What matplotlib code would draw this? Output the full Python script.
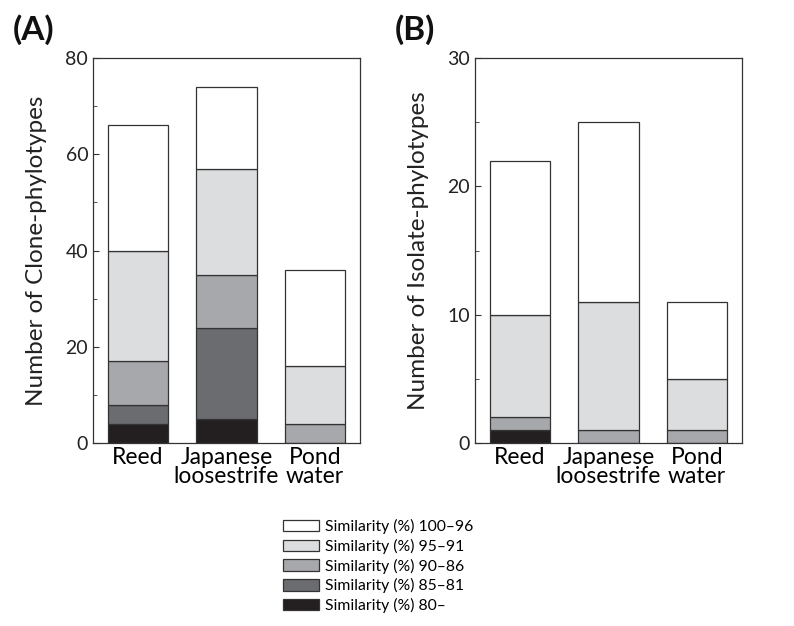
import matplotlib.pyplot as plt
import numpy as np
from matplotlib.patches import Patch

plt.rcParams['font.family'] = ['Lato', 'DejaVu Sans']

categories = ['Reed', 'Japanese\nloosestrife', 'Pond\nwater']
similarity = ['Similarity (%) 80\u2013', 'Similarity (%) 85\u201381',
              'Similarity (%) 90\u201386', 'Similarity (%) 95\u201391',
              'Similarity (%) 100\u201396']
colors = ['#231f20', '#6b6c70', '#a7a8ab', '#dcdddf', '#ffffff']

# clone-phylotypes, bottom (80-) to top (100-96)
clone = [[4, 5, 0],
         [4, 19, 0],
         [9, 11, 4],
         [23, 22, 12],
         [26, 17, 20]]
# isolate-phylotypes
isolate = [[1, 0, 0],
           [0, 0, 0],
           [1, 1, 1],
           [8, 10, 4],
           [12, 14, 6]]

fig = plt.figure(figsize=(7.94, 6.26), dpi=100)
W, H = 794, 626
ax_a = fig.add_axes([93 / W, 1 - 443 / H, 267 / W, 385 / H])
ax_b = fig.add_axes([475 / W, 1 - 443 / H, 267 / W, 385 / H])


def draw_panel(ax, data, ymax, major, minor, ylabel, tag):
    x = np.arange(len(categories))
    bottom = np.zeros(len(categories))
    for vals, c in zip(data, colors):
        vals = np.array(vals, dtype=float)
        ax.bar(x, vals, width=0.68, bottom=bottom, color=c,
               edgecolor='#333333', linewidth=0.9)
        bottom += vals
    ax.set_xlim(-0.51, 2.51)
    ax.set_ylim(0, ymax)
    ax.set_yticks(np.arange(0, ymax + 1, major))
    ax.set_yticks(np.arange(minor, ymax, major), minor=True)
    ax.set_xticks(x)
    ax.set_xticklabels(categories, fontsize=16.5, linespacing=0.9)
    ax.tick_params(axis='x', length=0, pad=3)
    ax.tick_params(axis='y', which='major', direction='in', length=4,
                   labelsize=14, colors='#333333', labelcolor='#222222')
    ax.tick_params(axis='y', which='minor', direction='in', length=3,
                   colors='#333333')
    for s in ax.spines.values():
        s.set_color('#333333')
        s.set_linewidth(0.9)
    ax.set_ylabel(ylabel, fontsize=17.5, labelpad=13, color='#222222')
    ax.text(-0.30, 1.075, tag, transform=ax.transAxes, fontsize=24,
            fontweight='bold', ha='left', va='center', color='#111111')


draw_panel(ax_a, clone, 80, 20, 10, 'Number of Clone-phylotypes', '(A)')
draw_panel(ax_b, isolate, 30, 10, 5, 'Number of Isolate-phylotypes', '(B)')

handles = [Patch(facecolor=c, edgecolor='#333333', linewidth=0.9)
           for c in colors]
fig.legend(handles[::-1], similarity[::-1], loc='upper left',
           bbox_to_anchor=(272 / W, 1 - 508 / H), frameon=False,
           fontsize=11.3, handlelength=2.3, handleheight=0.75,
           handletextpad=0.4, labelspacing=0.3, borderpad=0.2)

fig.savefig('out.png', dpi=100)
